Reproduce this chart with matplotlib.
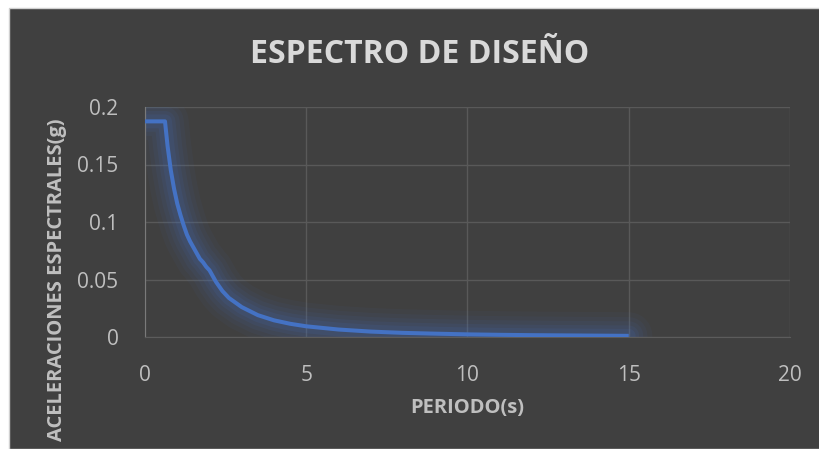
import matplotlib
matplotlib.use("Agg")
import matplotlib.pyplot as plt
from matplotlib.patches import Rectangle

plt.rcParams["font.family"] = ["Open Sans", "DejaVu Sans"]

# Spectral periods (s) and design accelerations (g)
periodos = [0.0, 0.62, 0.7, 0.8, 0.9, 1.0, 1.1, 1.2, 1.3, 1.4, 1.5, 1.6, 1.7,
            1.8, 1.9, 2.0, 2.2, 2.4, 2.6, 2.8, 3.0, 3.5, 4.0, 4.5, 5.0, 6.0,
            7.0, 8.0, 9.0, 10.0, 11.0, 12.0, 13.0, 14.0, 15.0]
aceleraciones = [0.1875, 0.1875, 0.166, 0.145, 0.129, 0.116, 0.106, 0.097,
                 0.089, 0.083, 0.078, 0.073, 0.068, 0.065, 0.061, 0.058,
                 0.048, 0.040, 0.034, 0.030, 0.026, 0.019, 0.0145, 0.0115,
                 0.0093, 0.0065, 0.0047, 0.0036, 0.0029, 0.0023, 0.0019,
                 0.0016, 0.0014, 0.0012, 0.0010]

x_ticks = [0, 5, 10, 15, 20]
y_ticks = [0, 0.05, 0.1, 0.15, 0.2]
y_tick_labels = ["0", "0.05", "0.1", "0.15", "0.2"]

W, H = 820, 449
fig = plt.figure(figsize=(W / 100, H / 100), dpi=100)
fig.patch.set_facecolor("white")

# dark chart panel with a thin light frame
fig.patches.append(Rectangle((9 / W, 0), 1 - 9 / W, 1 - 8 / H,
                             transform=fig.transFigure, facecolor="#404040",
                             edgecolor="#d0d0d0", linewidth=1.0, zorder=-10))

ax = fig.add_axes([145 / W, 1 - 337 / H, 645 / W, 230 / H])
ax.set_facecolor("#404040")

# soft glow under the series
for lw, a in [(34, 0.05), (27, 0.06), (21, 0.07), (15, 0.09), (10, 0.11)]:
    ax.plot(periodos, aceleraciones, color="#4472C4", lw=lw, alpha=a,
            solid_capstyle="round", solid_joinstyle="round", zorder=2)
ax.plot(periodos, aceleraciones, color="#4472C4", lw=2.9,
        solid_capstyle="butt", solid_joinstyle="round", zorder=3)

ax.set_xlim(0, 20)
ax.set_ylim(0, 0.2)
ax.set_xticks(x_ticks)
ax.set_yticks(y_ticks)
ax.set_yticklabels(y_tick_labels)
ax.grid(True, color="#595959", linewidth=1.0, zorder=1)
ax.set_axisbelow(True)

for side in ["top", "right"]:
    ax.spines[side].set_visible(False)
ax.spines["left"].set_color("#7a7a7a")
ax.spines["bottom"].set_color("#5c5c5c")
ax.tick_params(length=0, labelsize=15, colors="#bfbfbf")
ax.tick_params(axis="x", pad=20)
ax.tick_params(axis="y", pad=19)

fig.text(420 / W, 1 - 63 / H, "ESPECTRO DE DISEÑO", ha="center",
         va="baseline", fontsize=23, fontweight="bold", color="#d9d9d9")
fig.text(467 / W, 1 - 413 / H, "PERIODO(s)", ha="center", va="baseline",
         fontsize=14.5, fontweight="bold", color="#bfbfbf")
fig.text(57 / W, 1 - 280 / H, "ACELERACIONES ESPECTRALES(g)", ha="center",
         va="center", rotation=90, fontsize=14.5, fontweight="bold",
         color="#bfbfbf")

fig.savefig("out.png", dpi=100, facecolor=fig.get_facecolor())
